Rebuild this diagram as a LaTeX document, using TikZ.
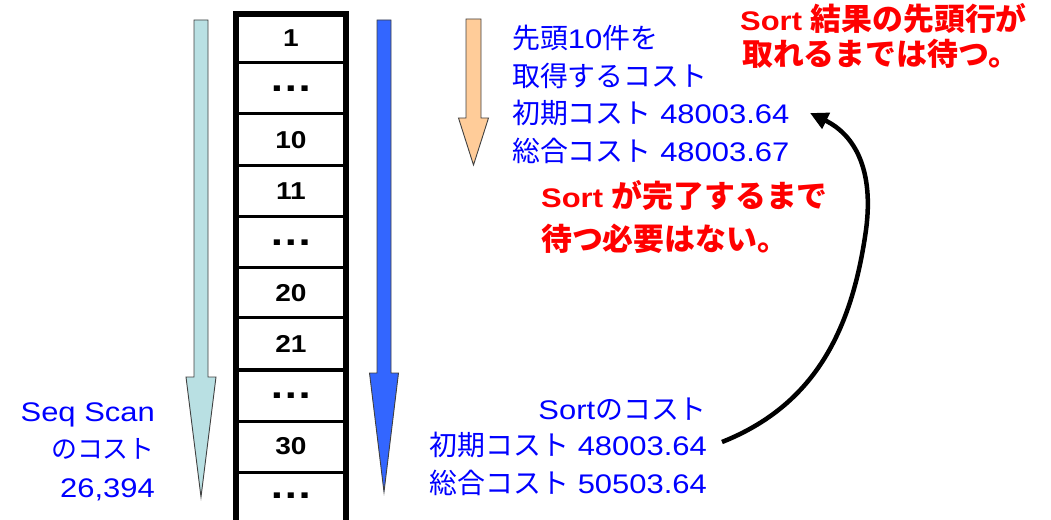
\documentclass[tikz,border=0pt]{standalone}
\usepackage{fontspec}
\setmainfont[FakeStretch=1.15]{Liberation Sans}
\newfontfamily\jpfont{Noto Sans CJK JP}
\newcommand\jbig[1]{{\jpfont\fontsize{28}{35}\selectfont #1}}
\newcommand\jred[1]{{\jpfont\fontsize{31}{35}\selectfont #1}}
\newcommand\jsmall[1]{{\jpfont\fontsize{26}{35}\selectfont #1}}
\newcommand\rowdots{{\fontsize{38}{38}\selectfont …}}
\usetikzlibrary{arrows.meta}
\definecolor{scanfill}{HTML}{B9E0E3}
\definecolor{sortfill}{HTML}{3366FF}
\definecolor{limitfill}{HTML}{FFCC99}
\definecolor{txtblue}{HTML}{0000FF}
\definecolor{txtred}{HTML}{FF0000}
\begin{document}
\begin{tikzpicture}[x=1bp,y=-1bp,
  bluetxt/.style={text=txtblue, font=\fontsize{27}{35}\selectfont, inner sep=0pt},
  redtxt/.style={text=txtred, font=\bfseries\fontsize{27}{35}\selectfont, inner sep=0pt},
  cellnum/.style={font=\bfseries\fontsize{24.5}{30}\selectfont, inner sep=0pt},
  rowline/.style={line width=3bp},
  frame/.style={line width=6bp},
  flow/.style={line width=0.9bp, draw=black!75},
  link/.style={line width=4.5bp, -{Triangle[length=18bp,width=17bp]}}
]
\useasboundingbox (0,0) rectangle (1051,520);

% row table
\draw[frame] (236,520) -- (236,14) -- (346,14) -- (346,520);
\foreach \y in {63,114,166,217,268,318,370,421,472}
  \draw[rowline] (236,\y) -- (346,\y);
\foreach \a/\b/\lab [count=\i] in {14/63/1, 63/114/\rowdots, 114/166/10, 166/217/11,
    217/268/\rowdots, 268/318/20, 318/370/21, 370/421/\rowdots, 421/472/30, 472/520/\rowdots}
  \node[cellnum] (row\i) at (291,{(\a+\b)/2}) {\lab};

% scan direction arrows
\draw[flow, fill=scanfill] (194,20) -- (208,20) -- (208,377) -- (216,377) -- (201,497)
  -- (186,377) -- (194,377) -- cycle;
\draw[flow, fill=sortfill] (377,20) -- (391,20) -- (391,373) -- (398.5,373) -- (384,492)
  -- (369.5,373) -- (377,373) -- cycle;
\draw[flow, fill=limitfill] (466,19) -- (481,19) -- (481,118) -- (488.5,118) -- (473.5,165)
  -- (458.5,118) -- (466,118) -- cycle;

% cost of the first 10 rows
\node[bluetxt, anchor=base west] (top1) at (512,49) {\jbig{先頭}10\jbig{件を}};
\node[bluetxt, anchor=base west] (top2) at (512,86.5) {\jbig{取得するコスト}};
\node[bluetxt, anchor=base west] (top3) at (512,124) {\jbig{初期コスト} 48003.64};
\node[bluetxt, anchor=base west] (top4) at (512,161.5) {\jbig{総合コスト} 48003.67};

% notes
\node[redtxt, anchor=base west] (res1) at (740,31) {Sort \jred{結果の先頭行が}};
\node[redtxt, anchor=base west] (res2) at (742,66) {\jred{取れるまでは待つ。}};
\node[redtxt, anchor=base west] (nowait1) at (541,208) {Sort \jred{が完了するまで}};
\node[redtxt, anchor=base west] (nowait2) at (541,251) {\jred{待つ必要はない。}};

% sort cost
\node[bluetxt, anchor=base east] (sort1) at (707,419) {Sort\jbig{のコスト}};
\node[bluetxt, anchor=base east] (sort2) at (707,455) {\jbig{初期コスト} 48003.64};
\node[bluetxt, anchor=base east] (sort3) at (707,493) {\jbig{総合コスト} 50503.64};

% seq scan cost
\node[bluetxt, anchor=base east] (seq1) at (155,421) {Seq Scan};
\node[bluetxt, anchor=base east] (seq2) at (155,458) {\jsmall{のコスト}};
\node[bluetxt, anchor=base east] (seq3) at (155,497) {26,394};

% startup cost carried over
\coordinate (cstart) at ([shift={(15,-13)}]sort2.base east);
\coordinate (cend) at (810,113);
\draw[link] (cstart) .. controls (815,405) and (852,330) .. (866,230)
  .. controls (874,170) and (855,135) .. (cend);
\end{tikzpicture}
\end{document}
